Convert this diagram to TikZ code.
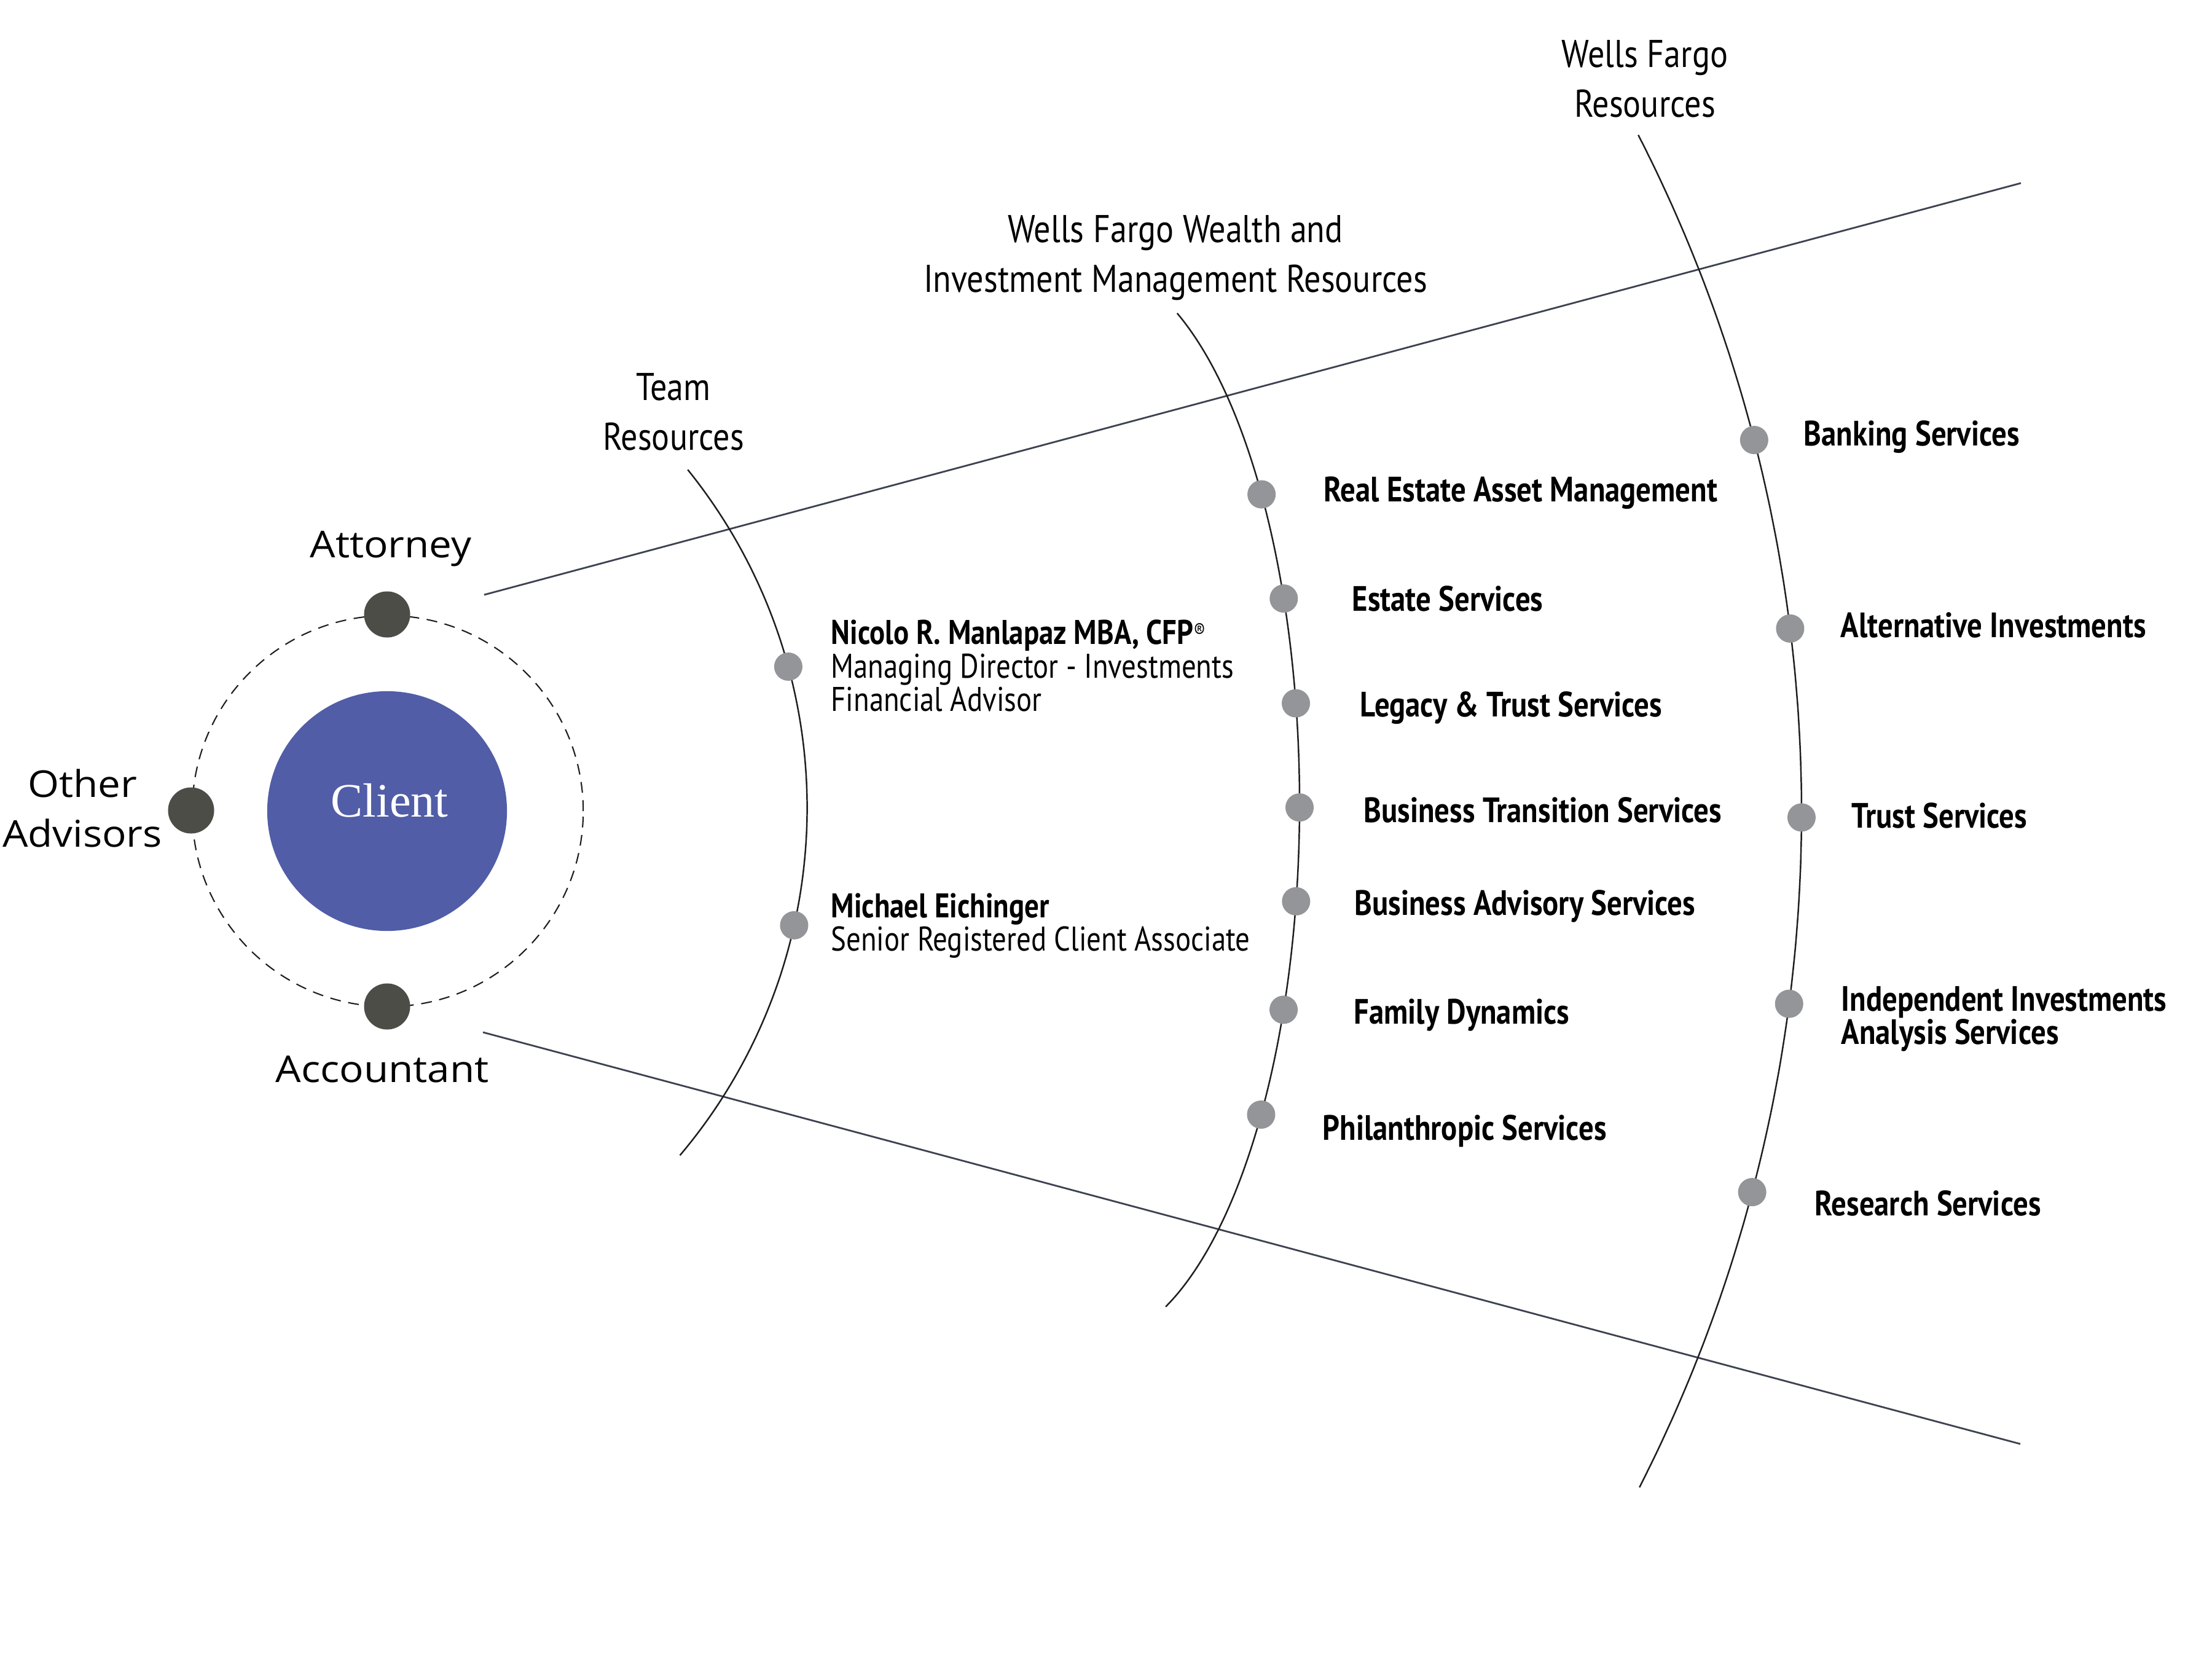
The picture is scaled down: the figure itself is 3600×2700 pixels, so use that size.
\documentclass[tikz,border=0pt]{standalone}
\usepackage{fontspec}
\setmainfont{PT Sans}
\newfontfamily\condfont[FakeStretch=0.84]{PT Sans}
\newfontfamily\svcfont[FakeStretch=0.85]{PT Sans}
\newfontfamily\headfont[FakeStretch=0.86]{PT Sans}
\newfontfamily\widefont[FakeStretch=1.09]{Open Sans}
\newfontfamily\clientfont{Liberation Serif}
\definecolor{clientblue}{RGB}{81,93,166}
\definecolor{darkdot}{RGB}{77,77,72}
\definecolor{dotgray}{RGB}{147,149,152}
\definecolor{conecol}{RGB}{62,66,80}
\definecolor{arccol}{RGB}{30,30,30}
\tikzset{
  arcline/.style={line width=0.7pt, draw=arccol},
  coneline/.style={line width=0.8pt, draw=conecol},
  orbit/.style={line width=0.6pt, draw=arccol, dash pattern=on 5pt off 3.5pt},
  gdot/.style={circle, fill=dotgray, minimum size=0.46cm, inner sep=0pt},
  ddot/.style={circle, fill=darkdot, minimum size=0.75cm, inner sep=0pt},
  clientnode/.style={circle, fill=clientblue, minimum size=3.9cm, inner sep=0pt},
  clienttext/.style={inner sep=0pt, anchor=base, text=white, font=\clientfont\fontsize{22.2}{26}\selectfont},
  roleline/.style={inner sep=0pt, align=center, font=\widefont\fontsize{17.1}{22.8}\selectfont},
  headlbl/.style={inner sep=0pt, anchor=base, align=center, font=\headfont\fontsize{17.9}{23}\selectfont},
  teamlbl/.style={inner sep=0pt, anchor=base west, align=left, font=\condfont\fontsize{15.85}{15.36}\selectfont},
  svc/.style={inner sep=0pt, anchor=base west, align=left, font=\svcfont\bfseries\fontsize{16.3}{15.36}\selectfont}
}
\begin{document}
\begin{tikzpicture}[x=0.01cm, y=-0.01cm]
\useasboundingbox (0,0) rectangle (3600,2700);

% cone lines
\coordinate (cone1s) at (788,968);
\coordinate (cone1e) at (3289,298);
\coordinate (cone2s) at (786,1680);
\coordinate (cone2e) at (3288,2350);
\draw[coneline] (cone1s) -- (cone1e);
\draw[coneline] (cone2s) -- (cone2e);

% arcs
\draw[arcline] plot[domain=-38.9:40.2, samples=90, smooth, variable=\s]
  ({437.2+876.4*cos(\s)}, {1314.7+876.4*sin(\s)});
\draw[arcline] plot[domain=-65.1:68.5, samples=120, smooth, variable=\s]
  ({1771+344*cos(\s)}, {1308+880*sin(\s)});
\draw[arcline] plot[domain=-27.1:27.0, samples=90, smooth, variable=\s]
  ({512+2420*cos(\s)}, {1322+2420*sin(\s)});

% client and orbit
\draw[orbit] (631,1320) circle[radius=3.18cm];
\node[clientnode] (client) at (630,1320) {};
\node[clienttext] (clientlbl) at (634,1329) {Client};
\node[ddot] (attdot) at (630,1000) {};
\node[ddot] (othdot) at (311,1319) {};
\node[ddot] (accdot) at (630,1638) {};
\node[roleline, anchor=base] (attlbl) at (636,907) {Attorney};
\node[roleline, anchor=base] (othlbl) at (134,1378) {Other\\Advisors};
\node[roleline, anchor=base] (acclbl) at (622,1761) {Accountant};

% headings (anchor base = last line)
\node[headlbl] (teamhead) at (1096,732) {Team\\Resources};
\node[headlbl] (wimhead) at (1913,475) {Wells Fargo Wealth and\\Investment Management Resources};
\node[headlbl] (wfhead) at (2677,190) {Wells Fargo\\Resources};

% team resources
\node[gdot] (tdot1) at ({437.2+876.4*cos(-15.2)}, {1314.7+876.4*sin(-15.2)}) {};
\node[gdot] (tdot2) at ({437.2+876.4*cos(12.6)}, {1314.7+876.4*sin(12.6)}) {};
\node[teamlbl] (nicolo) at (1352,1157) {{\bfseries Nicolo R. Manlapaz MBA, CFP\raisebox{0.1cm}{\mdseries\fontsize{9.5}{9.5}\selectfont ®}}\\Managing Director - Investments\\Financial Advisor};
\node[teamlbl] (michael) at (1352,1547) {{\bfseries Michael Eichinger}\\Senior Registered Client Associate};

% wealth and investment management resources
\node[gdot] (wdot1) at ({1771+344*cos(-34.9)}, {1308+880*sin(-34.9)}) {};
\node[gdot] (wdot2) at ({1771+344*cos(-22.3)}, {1308+880*sin(-22.3)}) {};
\node[gdot] (wdot3) at ({1771+344*cos(-10.7)}, {1308+880*sin(-10.7)}) {};
\node[gdot] (wdot4) at ({1771+344*cos(0.4)}, {1308+880*sin(0.4)}) {};
\node[gdot] (wdot5) at ({1771+344*cos(10.4)}, {1308+880*sin(10.4)}) {};
\node[gdot] (wdot6) at ({1771+344*cos(22.4)}, {1308+880*sin(22.4)}) {};
\node[gdot] (wdot7) at ({1771+344*cos(35.1)}, {1308+880*sin(35.1)}) {};
\node[svc] (wlbl1) at (2154,816) {Real Estate Asset Management};
\node[svc] (wlbl2) at (2200,994) {Estate Services};
\node[svc] (wlbl3) at (2213,1166) {Legacy \& Trust Services};
\node[svc] (wlbl4) at (2219,1338) {Business Transition Services};
\node[svc] (wlbl5) at (2204,1489) {Business Advisory Services};
\node[svc] (wlbl6) at (2203,1666) {Family Dynamics};
\node[svc] (wlbl7) at (2152,1855) {Philanthropic Services};

% wells fargo resources
\node[gdot] (rdot1) at ({512+2420*cos(-14.5)}, {1322+2420*sin(-14.5)}) {};
\node[gdot] (rdot2) at ({512+2420*cos(-7.1)}, {1322+2420*sin(-7.1)}) {};
\node[gdot] (rdot3) at ({512+2420*cos(0.2)}, {1322+2420*sin(0.2)}) {};
\node[gdot] (rdot4) at ({512+2420*cos(7.4)}, {1322+2420*sin(7.4)}) {};
\node[gdot] (rdot5) at ({512+2420*cos(14.8)}, {1322+2420*sin(14.8)}) {};
\node[svc] (rlbl1) at (2935,725) {Banking Services};
\node[svc] (rlbl2) at (2995,1037) {Alternative Investments};
\node[svc] (rlbl3) at (3013,1347) {Trust Services};
\node[svc] (rlbl4) at (2996,1699) {Independent Investments\\Analysis Services};
\node[svc] (rlbl5) at (2953,1978) {Research Services};
\end{tikzpicture}
\end{document}
